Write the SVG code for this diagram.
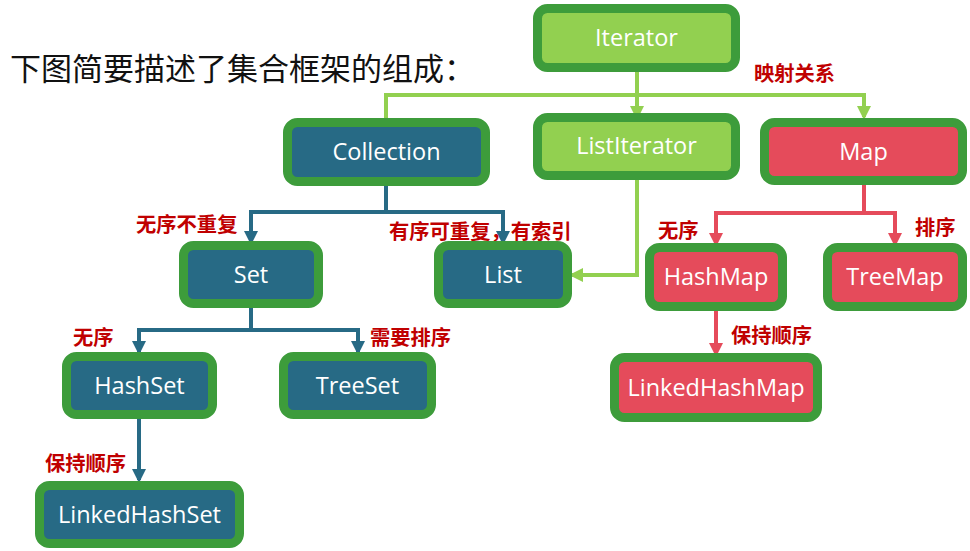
<svg xmlns="http://www.w3.org/2000/svg" width="970" height="551" viewBox="0 0 970 551">
<defs>
<style>
.box{stroke:#3d9c3b;stroke-width:9}
.g{fill:#92d050}
.t{fill:#276a85}
.r{fill:#e54b5b}
.nt{font-family:"Open Sans","Noto Sans",sans-serif;font-size:23.5px;fill:#ffffff;text-anchor:middle}
.lb{font-family:"Noto Sans CJK SC","Noto Sans",sans-serif;font-size:20.3px;font-weight:bold;fill:#c00000}
.title{font-family:"Noto Sans CJK SC","Noto Sans",sans-serif;font-size:31px;fill:#111111}
.cg{fill:none;stroke:#92d050;stroke-width:4}
.ct{fill:none;stroke:#276a85;stroke-width:4}
.cr{fill:none;stroke:#e54b5b;stroke-width:4}
</style>
<marker id="ag" markerUnits="userSpaceOnUse" markerWidth="14" markerHeight="14" viewBox="0 0 14 14" refX="11" refY="7" orient="auto"><path d="M0,0 L14,7 L0,14 z" fill="#92d050"/></marker>
<marker id="at" markerUnits="userSpaceOnUse" markerWidth="14" markerHeight="14" viewBox="0 0 14 14" refX="11" refY="7" orient="auto"><path d="M0,0 L14,7 L0,14 z" fill="#276a85"/></marker>
<marker id="ar" markerUnits="userSpaceOnUse" markerWidth="14" markerHeight="14" viewBox="0 0 14 14" refX="11" refY="7" orient="auto"><path d="M0,0 L14,7 L0,14 z" fill="#e54b5b"/></marker>
</defs>
<rect width="970" height="551" fill="#ffffff"/>
<text class="title" x="10" y="80">下图简要描述了集合框架的组成：</text>

<g id="connectors">
<path class="cg" d="M637,72 L637,117" marker-end="url(#ag)"/>
<path class="cg" d="M386,120 L386,95 L864,95 L864,117" marker-end="url(#ag)"/>
<path class="cg" d="M637,180 L637,275 L572,275" marker-end="url(#ag)"/>
<path class="ct" d="M386,186 L386,212"/>
<path class="ct" d="M251,242 L251,212 L503,212 L503,242" marker-end="url(#at)"/>
<path class="ct" d="M251,212 L251,242" marker-end="url(#at)"/>
<path class="ct" d="M251,308 L251,330"/>
<path class="ct" d="M139,352 L139,330 L358,330 L358,352" marker-end="url(#at)"/>
<path class="ct" d="M139,330 L139,352" marker-end="url(#at)"/>
<path class="ct" d="M139,419 L139,480" marker-end="url(#at)"/>
<path class="cr" d="M864,185 L864,213"/>
<path class="cr" d="M716,244 L716,213 L895,213 L895,244" marker-end="url(#ar)"/>
<path class="cr" d="M716,213 L716,244" marker-end="url(#ar)"/>
<path class="cr" d="M716,311 L716,354" marker-end="url(#ar)"/>
</g>

<g id="labels">
<text class="lb" x="754" y="81">映射关系</text>
<text class="lb" x="136" y="232">无序不重复</text>
<text class="lb" x="389" y="239">有序可重复，有索引</text>
<text class="lb" x="73" y="345">无序</text>
<text class="lb" x="370" y="345">需要排序</text>
<text class="lb" x="45" y="471">保持顺序</text>
<text class="lb" x="658" y="238">无序</text>
<text class="lb" x="915" y="235">排序</text>
<text class="lb" x="731" y="343">保持顺序</text>
</g>

<g id="node-iterator"><rect class="box g" x="537.5" y="8.5" width="198" height="59" rx="10"/><text class="nt" x="636.5" y="46">Iterator</text></g>
<g id="node-listiterator"><rect class="box g" x="537.5" y="117.5" width="198" height="58" rx="10"/><text class="nt" x="636.5" y="154">ListIterator</text></g>
<g id="node-map"><rect class="box r" x="764.5" y="122.5" width="198" height="58" rx="10"/><text class="nt" x="863.5" y="159.5">Map</text></g>
<g id="node-collection"><rect class="box t" x="287.5" y="122.5" width="198" height="59" rx="10"/><text class="nt" x="386.5" y="160">Collection</text></g>
<g id="node-set"><rect class="box t" x="183.5" y="245.5" width="135" height="58" rx="10"/><text class="nt" x="251" y="282.5">Set</text></g>
<g id="node-list"><rect class="box t" x="438.5" y="245.5" width="129" height="58" rx="10"/><text class="nt" x="503" y="282.5">List</text></g>
<g id="node-hashset"><rect class="box t" x="66.5" y="356.5" width="146" height="58" rx="10"/><text class="nt" x="139.5" y="393.5">HashSet</text></g>
<g id="node-treeset"><rect class="box t" x="283.5" y="356.5" width="148" height="58" rx="10"/><text class="nt" x="357.5" y="393.5">TreeSet</text></g>
<g id="node-linkedhashset"><rect class="box t" x="39.5" y="485.5" width="200" height="58" rx="10"/><text class="nt" x="139.5" y="522.5">LinkedHashSet</text></g>
<g id="node-hashmap"><rect class="box r" x="649.5" y="247.5" width="133" height="59" rx="10"/><text class="nt" x="716" y="285">HashMap</text></g>
<g id="node-treemap"><rect class="box r" x="827.5" y="247.5" width="135" height="59" rx="10"/><text class="nt" x="895" y="285">TreeMap</text></g>
<g id="node-linkedhashmap"><rect class="box r" x="614.5" y="357.5" width="203" height="60" rx="10"/><text class="nt" x="716" y="395.5">LinkedHashMap</text></g>
</svg>
